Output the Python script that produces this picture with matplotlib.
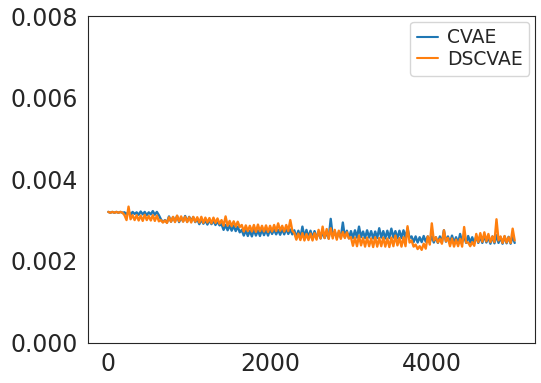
import numpy as np
import matplotlib
matplotlib.use("Agg")
import matplotlib.pyplot as plt
import seaborn as sns

# upper / lower edge of each noisy loss band, every 50 steps (units of 1e-3)
cvae_hi = [3.20, 3.20, 3.20, 3.20,
           3.19, 3.21, 3.20, 3.19, 3.21, 3.20, 3.19, 3.22, 3.20,
           3.02, 3.00,
           3.09, 3.07, 3.10, 3.06, 3.10, 3.08, 3.07,
           3.02, 3.01, 2.99, 3.00, 2.98, 2.97,
           2.90, 2.88, 2.87, 2.86, 2.84,
           2.76, 2.75, 2.74, 2.76, 2.75, 2.77, 2.76,
           2.78, 2.77, 2.76, 2.78, 2.79, 2.77,
           2.75, 2.74, 2.84, 2.76, 2.74, 2.73,
           2.70, 2.71, 2.70,
           3.03,
           2.72, 2.70,
           2.94,
           2.74, 2.73, 2.75, 2.84, 2.72, 2.75, 2.73, 2.72, 2.80, 2.73, 2.74, 2.79, 2.73, 2.74, 2.75, 2.80,
           2.60, 2.60, 2.58, 2.61, 2.60,
           2.60, 2.58, 2.60, 2.75, 2.60, 2.62, 2.58, 2.66, 2.60, 2.61, 2.58,
           2.60, 2.59, 2.62, 2.58, 2.60, 2.63, 2.58, 2.60, 2.59, 2.60]
cvae_lo = [3.18, 3.18, 3.18, 3.18,
           3.14, 3.13, 3.15, 3.13, 3.14, 3.12, 3.14, 3.13, 3.12,
           2.95, 2.94,
           2.96, 2.97, 2.95, 2.97, 2.96, 2.98, 2.95,
           2.90, 2.91, 2.89, 2.90, 2.88, 2.87,
           2.76, 2.75, 2.74, 2.73, 2.70,
           2.62, 2.61, 2.60, 2.62, 2.61, 2.63, 2.62,
           2.66, 2.65, 2.64, 2.65, 2.66, 2.65,
           2.57, 2.56, 2.58, 2.57, 2.56, 2.57,
           2.55, 2.56, 2.55,
           2.60,
           2.56, 2.57,
           2.58,
           2.55, 2.56, 2.57, 2.58, 2.56, 2.57, 2.55, 2.56, 2.57, 2.55, 2.56, 2.57, 2.55, 2.56, 2.57, 2.56,
           2.46, 2.45, 2.46, 2.47, 2.46,
           2.45, 2.44, 2.45, 2.47, 2.44, 2.45, 2.43, 2.46, 2.44, 2.45, 2.43,
           2.44, 2.44, 2.45, 2.42, 2.43, 2.44, 2.42, 2.43, 2.42, 2.44]

dscvae_hi = [3.20, 3.20, 3.20, 3.20,
             3.12, 3.33, 3.12,
             3.12, 3.11, 3.13, 3.10, 3.12, 3.11,
             3.00, 2.99,
             3.07, 3.08, 3.11, 3.09, 3.08, 3.07, 3.08,
             3.07, 3.08, 3.06, 3.05, 3.06, 3.04,
             3.00, 3.09, 2.98, 2.97, 2.96,
             2.88, 2.87, 2.86, 2.88, 2.89, 2.86, 2.87,
             2.86, 2.88, 2.92, 2.86, 2.88, 3.00,
             2.68, 2.67, 2.68, 2.66, 2.67, 2.68,
             2.76, 2.84, 2.78, 2.80, 2.76, 2.74,
             2.71, 2.70,
             2.58, 2.57, 2.62, 2.56, 2.57, 2.55, 2.58, 2.56, 2.57, 2.55, 2.57, 2.62, 2.56, 2.58,
             2.85,
             2.50, 2.40, 2.36, 2.42,
             2.60, 2.92,
             2.58, 2.54,
             2.75,
             2.56, 2.55, 2.52, 2.54,
             2.83,
             2.45, 2.46,
             2.66, 2.68, 2.70, 2.66,
             2.60, 3.02, 2.60, 2.61, 2.58, 2.79]
dscvae_lo = [3.18, 3.18, 3.18, 3.18,
             3.00, 3.02, 3.00,
             2.99, 2.98, 3.00, 2.99, 2.98, 2.97,
             2.94, 2.93,
             2.96, 2.95, 2.97, 2.96, 2.95, 2.94, 2.96,
             2.94, 2.93, 2.94, 2.92, 2.93, 2.91,
             2.86, 2.86, 2.85, 2.84, 2.83,
             2.72, 2.73, 2.72, 2.71, 2.73, 2.72, 2.71,
             2.72, 2.73, 2.74, 2.72, 2.73, 2.74,
             2.52, 2.51, 2.50, 2.51, 2.50, 2.52,
             2.55, 2.56, 2.54, 2.55, 2.52, 2.54,
             2.56, 2.55,
             2.37, 2.36, 2.38, 2.35, 2.36, 2.34, 2.35, 2.36, 2.35, 2.34, 2.36, 2.38, 2.35, 2.36,
             2.45,
             2.35, 2.29, 2.27, 2.30,
             2.40, 2.50,
             2.45, 2.42,
             2.48,
             2.36, 2.35, 2.36, 2.35,
             2.45,
             2.36, 2.37,
             2.46, 2.47, 2.48, 2.46,
             2.46, 2.50, 2.44, 2.45, 2.44, 2.50]


def band(hi, lo):
    # alternate upper and lower edge every 25 steps so the line fills the band
    y = np.column_stack([hi, lo]).ravel() * 1e-3
    x = np.arange(len(y)) * 25
    return x, y


sns.set_style("white")
plt.rcParams["font.family"] = ["DejaVu Sans"]

fig = plt.figure(figsize=(5.41, 3.83), dpi=100)
ax = fig.add_axes([0.1627, 0.1057, 0.8262, 0.8525])

x, y = band(cvae_hi, cvae_lo)
ax.plot(x, y, color="#1f77b4", lw=1.7, label="CVAE")
x, y = band(dscvae_hi, dscvae_lo)
ax.plot(x, y, color="#ff7f0e", lw=1.7, label="DSCVAE")

ax.set_ylim(0, 0.008)
ax.set_yticks([0, 0.002, 0.004, 0.006, 0.008])
ax.set_xticks([0, 2000, 4000])
ax.tick_params(labelsize=17, colors=".15")
for s in ax.spines.values():
    s.set_color(".15")

leg = ax.legend(loc="upper right", fontsize=13.5, handlelength=1.1, handletextpad=0.5,
                labelspacing=0.15, borderpad=0.35, borderaxespad=0.3)
for line in leg.get_lines():
    line.set_linewidth(1.5)

fig.savefig("out.png", dpi=100)
